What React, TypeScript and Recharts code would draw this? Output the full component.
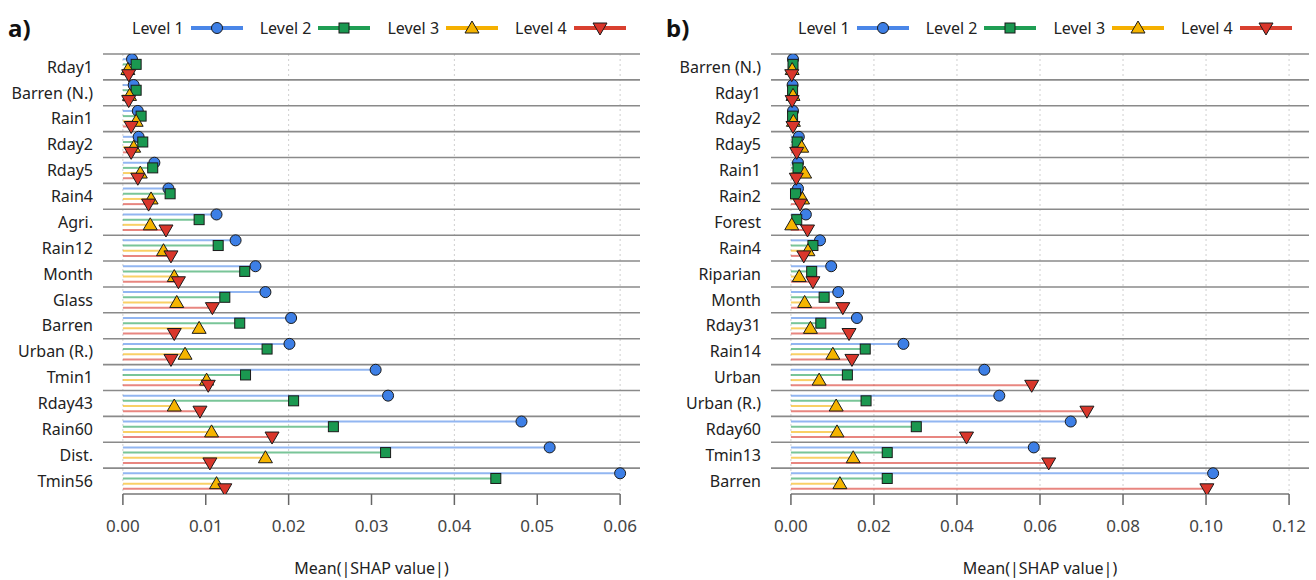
import React from 'react';
import {
  ScatterChart,
  Scatter,
  XAxis,
  YAxis,
  CartesianGrid,
  ReferenceLine,
  ErrorBar,
} from 'recharts';

const FONT = '"Noto Sans", "DejaVu Sans", sans-serif';

// Panel a
const FEATURES_A = ['Rday1', 'Barren (N.)', 'Rain1', 'Rday2', 'Rday5', 'Rain4', 'Agri.', 'Rain12', 'Month', 'Glass', 'Barren', 'Urban (R.)', 'Tmin1', 'Rday43', 'Rain60', 'Dist.', 'Tmin56'];
const A_LEVEL1 = [0.0011, 0.0013, 0.0018, 0.0019, 0.0038, 0.0055, 0.0113, 0.0136, 0.016, 0.0172, 0.0203, 0.0201, 0.0305, 0.032, 0.0481, 0.0515, 0.06];
const A_LEVEL2 = [0.0016, 0.0016, 0.0022, 0.0024, 0.0036, 0.0057, 0.0092, 0.0115, 0.0147, 0.0123, 0.0141, 0.0174, 0.0148, 0.0206, 0.0254, 0.0317, 0.045];
const A_LEVEL3 = [0.0006, 0.0008, 0.0016, 0.0013, 0.0021, 0.0034, 0.0033, 0.0049, 0.0062, 0.0065, 0.0092, 0.0075, 0.0101, 0.0062, 0.0107, 0.0172, 0.0113];
const A_LEVEL4 = [0.0007, 0.0007, 0.001, 0.001, 0.0018, 0.0031, 0.0052, 0.0058, 0.0067, 0.0108, 0.0062, 0.0058, 0.0103, 0.0093, 0.018, 0.0105, 0.0123];
const A_TICKS = [0, 0.01, 0.02, 0.03, 0.04, 0.05, 0.06];
const A_GRID = [0, 0.02, 0.04, 0.06];

// Panel b
const FEATURES_B = ['Barren (N.)', 'Rday1', 'Rday2', 'Rday5', 'Rain1', 'Rain2', 'Forest', 'Rain4', 'Riparian', 'Month', 'Rday31', 'Rain14', 'Urban', 'Urban (R.)', 'Rday60', 'Tmin13', 'Barren'];
const B_LEVEL1 = [0.0005, 0.0004, 0.0005, 0.0019, 0.0017, 0.0017, 0.0036, 0.007, 0.0097, 0.0114, 0.0159, 0.0271, 0.0466, 0.0502, 0.0674, 0.0585, 0.1017];
const B_LEVEL2 = [0.0005, 0.0004, 0.0004, 0.0015, 0.0017, 0.0011, 0.0014, 0.0053, 0.005, 0.008, 0.0072, 0.0179, 0.0136, 0.0181, 0.0302, 0.0232, 0.0232];
const B_LEVEL3 = [0.0003, 0.0005, 0.0006, 0.0026, 0.0033, 0.0028, 0.0002, 0.0041, 0.002, 0.0033, 0.0047, 0.0101, 0.0068, 0.0109, 0.0111, 0.015, 0.0118];
const B_LEVEL4 = [0.0002, 0.0003, 0.0005, 0.0014, 0.0013, 0.0022, 0.004, 0.0031, 0.0053, 0.0125, 0.014, 0.0147, 0.058, 0.0713, 0.0423, 0.0621, 0.1002];
const B_TICKS = [0, 0.02, 0.04, 0.06, 0.08, 0.1, 0.12];
const B_GRID = [0, 0.02, 0.04, 0.06, 0.08, 0.1, 0.12];

const LEVEL_NAMES = ['Level 1', 'Level 2', 'Level 3', 'Level 4'];
const LEVEL_STYLE = [
  { fill: '#3d7fe6', line: '#4a86e8', stem: 'rgba(74,134,232,0.6)', kind: 'circle' },
  { fill: '#1a9850', line: '#1f9e54', stem: 'rgba(31,158,84,0.6)', kind: 'square' },
  { fill: '#f5b400', line: '#f5b000', stem: 'rgba(245,176,0,0.6)', kind: 'up' },
  { fill: '#d9362b', line: '#d9402f', stem: 'rgba(217,54,43,0.6)', kind: 'down' },
];

const Marker = ({ cx, cy, kind, fill }: { cx: number; cy: number; kind: string; fill: string }) => {
  const s = { fill, stroke: '#1a1a1a', strokeWidth: 1 };
  if (kind === 'circle') return <circle cx={cx} cy={cy} r={5.5} {...s} />;
  if (kind === 'square') return <rect x={cx - 5} y={cy - 5} width={10} height={10} {...s} />;
  if (kind === 'up')
    return <polygon points={`${cx},${cy - 7} ${cx + 7},${cy + 5} ${cx - 7},${cy + 5}`} {...s} />;
  return <polygon points={`${cx - 7},${cy - 5} ${cx + 7},${cy - 5} ${cx},${cy + 7}`} {...s} />;
};

const Legend = ({ left }: { left: number }) => (
  <div style={{ position: 'absolute', left, top: 17, display: 'flex', alignItems: 'center', fontFamily: FONT, fontSize: 16, color: '#222' }}>
    {LEVEL_NAMES.map((name, j) => (
      <div key={name} style={{ display: 'flex', alignItems: 'center', marginRight: 17 }}>
        <span style={{ marginRight: 7 }}>{name}</span>
        <svg width={52} height={18}>
          <line x1={0} x2={52} y1={9} y2={9} stroke={LEVEL_STYLE[j].line} strokeWidth={4} />
          <Marker cx={26} cy={9} kind={LEVEL_STYLE[j].kind} fill={LEVEL_STYLE[j].fill} />
        </svg>
      </div>
    ))}
  </div>
);

interface PanelProps {
  tag: string;
  left: number;
  yWidth: number;
  right: number;
  features: string[];
  levels: number[][];
  ticks: number[];
  grid: number[];
  legendLeft: number;
}

const Panel: React.FC<PanelProps> = ({ tag, left, yWidth, right, features, levels, ticks, grid, legendLeft }) => {
  const max = ticks[ticks.length - 1];
  const pad = max * 0.04;
  const n = features.length;
  const rowTicks = features.map((_, i) => i + 0.5);
  const rowLines = features.map((_, i) => i);

  return (
    <div style={{ position: 'absolute', left, top: 0, width: 658, height: 580 }}>
      <div style={{ position: 'absolute', left: 8, top: 11, fontFamily: FONT, fontWeight: 700, fontSize: 24, color: '#111' }}>{tag}</div>
      <Legend left={legendLeft} />
      <ScatterChart width={658} height={580} margin={{ top: 54, right, bottom: 0, left: 0 }}>
        <CartesianGrid horizontal={false} verticalValues={grid} stroke="#cfcfcf" strokeDasharray="2 3" />
        <XAxis
          type="number"
          dataKey="x"
          domain={[-pad, max + pad]}
          allowDataOverflow
          ticks={ticks}
          interval={0}
          tickFormatter={(v: number) => v.toFixed(2)}
          axisLine={false}
          tickLine={{ stroke: '#666', strokeWidth: 1.5 }}
          tickSize={11}
          tickMargin={15}
          height={86}
          tick={{ fontSize: 17, fill: '#444', fontFamily: FONT }}
          label={{ value: 'Mean(|SHAP value|)', position: 'insideBottom', offset: 6, fontSize: 16, fill: '#222', fontFamily: FONT }}
        />
        <YAxis
          type="number"
          dataKey="y"
          domain={[0, n]}
          reversed
          allowDataOverflow
          ticks={rowTicks}
          interval={0}
          tickFormatter={(v: number) => features[Math.floor(v)]}
          axisLine={false}
          tickLine={false}
          width={yWidth}
          tickMargin={4}
          tick={{ fontSize: 16, fill: '#222', fontFamily: FONT }}
        />
        {rowLines.map((k) => (
          <ReferenceLine key={`sep-${k}`} y={k} stroke="#8a8a8a" strokeWidth={1.6} />
        ))}
        <ReferenceLine segment={[{ x: 0, y: n }, { x: max, y: n }]} stroke="#777" strokeWidth={1.6} />
        {levels.map((vals, j) => (
          <Scatter
            key={LEVEL_NAMES[j]}
            name={LEVEL_NAMES[j]}
            data={vals.map((v, i) => ({ x: v, y: i + (j + 1) / 5, err: [v, 0] }))}
            isAnimationActive={false}
            shape={(p: any) => <Marker cx={p.cx} cy={p.cy} kind={LEVEL_STYLE[j].kind} fill={LEVEL_STYLE[j].fill} />}
          >
            <ErrorBar dataKey="err" direction="x" width={0} stroke={LEVEL_STYLE[j].stem} strokeWidth={2} isAnimationActive={false} />
          </Scatter>
        ))}
      </ScatterChart>
    </div>
  );
};

export default function App() {
  return (
    <div style={{ position: 'absolute', left: 0, top: 0, width: 1316, height: 580, background: '#fff' }}>
      <Panel
        tag="a)"
        left={0}
        yWidth={103}
        right={18}
        features={FEATURES_A}
        levels={[A_LEVEL1, A_LEVEL2, A_LEVEL3, A_LEVEL4]}
        ticks={A_TICKS}
        grid={A_GRID}
        legendLeft={132}
      />
      <Panel
        tag="b)"
        left={658}
        yWidth={113}
        right={7}
        features={FEATURES_B}
        levels={[B_LEVEL1, B_LEVEL2, B_LEVEL3, B_LEVEL4]}
        ticks={B_TICKS}
        grid={B_GRID}
        legendLeft={140}
      />
    </div>
  );
}
